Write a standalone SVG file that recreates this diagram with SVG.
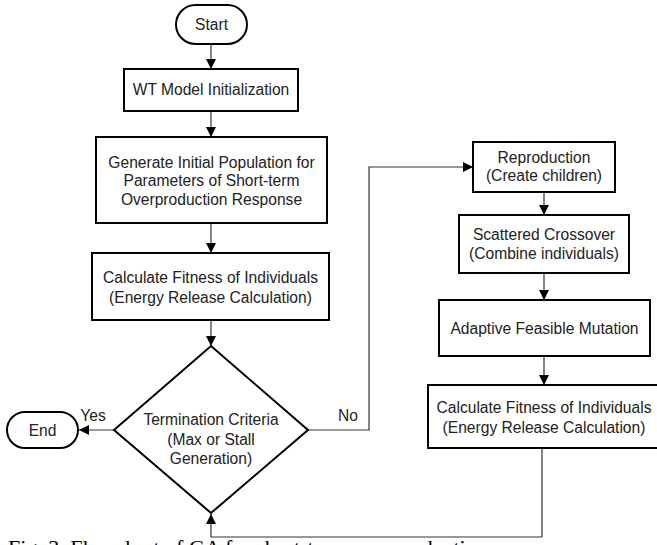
<svg xmlns="http://www.w3.org/2000/svg" width="657" height="545" viewBox="0 0 657 545">
<defs>
<marker id="ah" viewBox="0 0 10 10" refX="10" refY="5" markerWidth="10" markerHeight="10" markerUnits="userSpaceOnUse" orient="auto">
<path d="M0,0 L10,5 L0,10 Z" fill="#000"/>
</marker>
</defs>
<style>
.box{fill:#fff;stroke:#000;stroke-width:2}
.t{font-family:"Liberation Sans",Arial,sans-serif;font-size:15.6px;fill:#222;text-anchor:middle}
.c{fill:none;stroke:#333;stroke-width:1.2}
.cap{font-family:"Liberation Serif","Times New Roman",serif;font-size:22px;fill:#000}
</style>
<rect width="657" height="545" fill="#fff"/>
<g id="connectors">
<line class="c" x1="211" y1="44" x2="211" y2="69" marker-end="url(#ah)"/>
<line class="c" x1="211" y1="111" x2="211" y2="137" marker-end="url(#ah)"/>
<line class="c" x1="211" y1="223" x2="211" y2="253" marker-end="url(#ah)"/>
<line class="c" x1="211" y1="320" x2="211" y2="346" marker-end="url(#ah)"/>
<line class="c" x1="114" y1="430" x2="79" y2="430" marker-end="url(#ah)"/>
<polyline class="c" points="308,430 369,430 369,167 473,167" marker-end="url(#ah)"/>
<line class="c" x1="544" y1="192" x2="544" y2="215" marker-end="url(#ah)"/>
<line class="c" x1="544" y1="273" x2="544" y2="300" marker-end="url(#ah)"/>
<line class="c" x1="544" y1="356" x2="544" y2="385" marker-end="url(#ah)"/>
<polyline class="c" points="542,448 542,537 211,537 211,514" marker-end="url(#ah)"/>
<text class="t" x="93" y="421">Yes</text>
<text class="t" x="348" y="421">No</text>
</g>
<g id="start">
<rect class="box" x="176" y="5" width="71" height="39" rx="19.5"/>
<text class="t" x="211.5" y="30">Start</text>
</g>
<g id="wt-init">
<rect class="box" x="124" y="69" width="174" height="42"/>
<text class="t" x="211" y="95">WT Model Initialization</text>
</g>
<g id="generate">
<rect class="box" x="96" y="137" width="231" height="86"/>
<text class="t" x="211.5" y="168">Generate Initial Population for</text>
<text class="t" x="211.5" y="186">Parameters of Short-term</text>
<text class="t" x="211.5" y="205">Overproduction Response</text>
</g>
<g id="fitness1">
<rect class="box" x="92" y="253" width="237" height="67"/>
<text class="t" x="210.5" y="283">Calculate Fitness of Individuals</text>
<text class="t" x="210.5" y="303">(Energy Release Calculation)</text>
</g>
<g id="termination">
<polygon class="box" points="211,346 308,430 211,513 114,430"/>
<text class="t" x="211" y="425">Termination Criteria</text>
<text class="t" x="211" y="445">(Max or Stall</text>
<text class="t" x="211" y="464">Generation)</text>
</g>
<g id="end">
<rect class="box" x="7" y="412" width="71" height="36" rx="18"/>
<text class="t" x="42.5" y="436">End</text>
</g>
<g id="reproduction">
<rect class="box" x="473" y="142" width="142" height="50"/>
<text class="t" x="544" y="163">Reproduction</text>
<text class="t" x="544" y="181">(Create children)</text>
</g>
<g id="crossover">
<rect class="box" x="459" y="215" width="170" height="58"/>
<text class="t" x="544" y="240">Scattered Crossover</text>
<text class="t" x="544" y="259">(Combine individuals)</text>
</g>
<g id="mutation">
<rect class="box" x="439" y="300" width="211" height="56"/>
<text class="t" x="544.5" y="334">Adaptive Feasible Mutation</text>
</g>
<g id="fitness2">
<rect class="box" x="428" y="385" width="232" height="63"/>
<text class="t" x="544" y="413">Calculate Fitness of Individuals</text>
<text class="t" x="544" y="433">(Energy Release Calculation)</text>
</g>
<text class="cap" x="8" y="555">Fig. 3.  Flowchart of GA for short-term overproduction</text>
</svg>
